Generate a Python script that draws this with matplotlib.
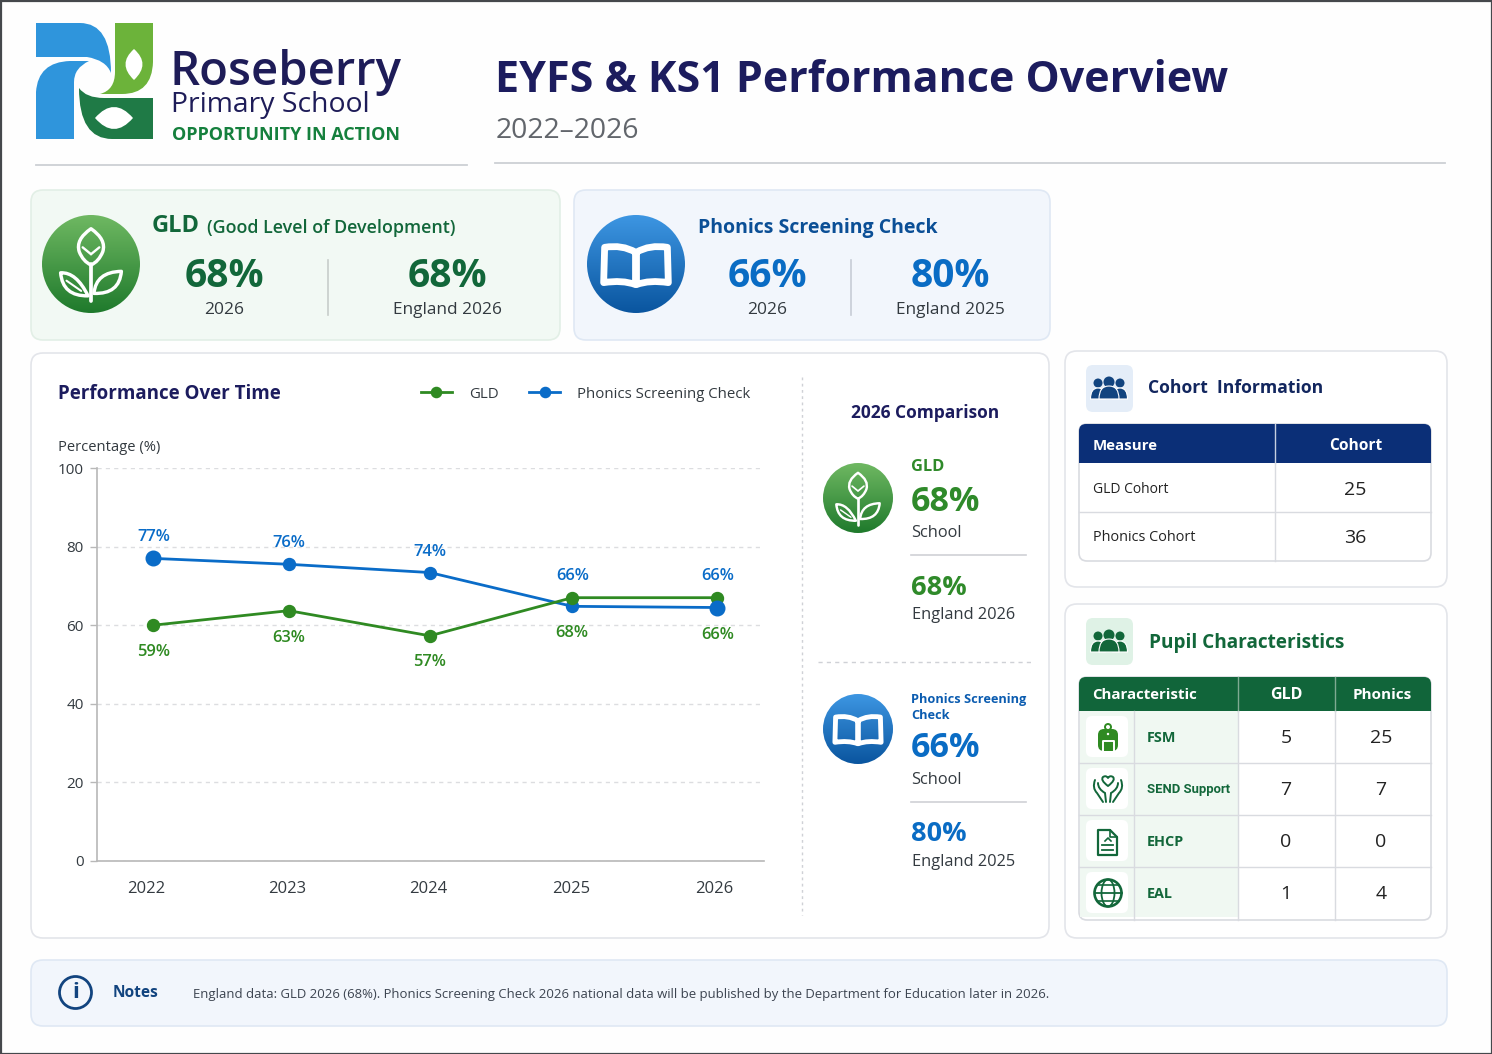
import matplotlib
matplotlib.use('Agg')
import matplotlib.pyplot as plt
from matplotlib.patches import FancyBboxPatch, Circle, Rectangle, PathPatch, Ellipse, Polygon
from matplotlib.path import Path
from matplotlib.colors import LinearSegmentedColormap
import numpy as np

plt.rcParams['font.family'] = ['Open Sans', 'DejaVu Sans']

#################### DATA ####################
years = [2022, 2023, 2024, 2025, 2026]
x_pos = [2022.0, 2022.96, 2023.96, 2024.97, 2026.0]   # points are not evenly spaced in the picture
tick_x = [2021.95, 2022.95, 2023.95, 2024.96, 2025.98]
gld_pts = [60.0, 63.7, 57.3, 67.0, 67.0]
phonics_pts = [77.0, 75.5, 73.4, 64.8, 64.5]
gld_labels = ['59%', '63%', '57%', '68%', '66%']
phonics_labels = ['77%', '76%', '74%', '66%', '66%']
y_ticks = [0, 20, 40, 60, 80, 100]

cohort_head = ['Measure', 'Cohort']
cohort_rows = ['GLD Cohort', 'Phonics Cohort']
cohort_vals = [25, 36]

char_head = ['Characteristic', 'GLD', 'Phonics']
char_rows = ['FSM', 'SEND Support', 'EHCP', 'EAL']
char_gld = [5, 7, 0, 1]
char_phonics = [25, 7, 0, 4]

NAVY = '#1c1c5e'
GREEN = '#12673a'
GREEN2 = '#2f8a2a'
BLUE = '#0a6cc4'
DBLUE = '#0b4f96'
GREY = '#333a40'

#################### CANVAS ####################
fig = plt.figure(figsize=(14.92, 10.54), dpi=100, facecolor='#fefefe')
bg = fig.add_axes([0, 0, 1, 1])
bg.set_axis_off()


def t(x, y, s, size=12, color=GREY, weight='normal', ha='left', **kw):
    # open sans sits a little high with va=center
    return bg.text(x, y + 0.12 * size, s, fontsize=size, color=color, fontweight=weight, ha=ha, va='center', **kw)


def card(x0, y0, x1, y1, fc='white', ec='#e3e5ea', r=12, lw=1.2, z=1):
    p = FancyBboxPatch((x0, y0), x1 - x0, y1 - y0, boxstyle='round,pad=0,rounding_size=%g' % r,
                       fc=fc, ec=ec, lw=lw, zorder=z)
    bg.add_patch(p)
    return p


def curve(pts, close=False):
    # pts: first point then (control, end) pairs
    verts = [pts[0]]
    codes = [Path.MOVETO]
    for c, e in pts[1:]:
        if c is None:
            verts.append(e)
            codes.append(Path.LINETO)
        else:
            verts += [c, e]
            codes += [Path.CURVE3, Path.CURVE3]
    if close:
        verts.append(pts[0])
        codes.append(Path.CLOSEPOLY)
    return Path(verts, codes)


def shape(pts, fc='none', ec='none', lw=1, z=5):
    bg.add_patch(PathPatch(curve(pts, True), fc=fc, ec=ec, lw=lw, zorder=z, joinstyle='round'))


def open_line(pts, ec='white', lw=1, z=6):
    bg.add_patch(PathPatch(curve(pts), fc='none', ec=ec, lw=lw, zorder=z, capstyle='round'))


def grad_circle(cx, cy, r, top, bottom):
    cm = LinearSegmentedColormap.from_list('g', [top, bottom])
    im = bg.imshow(np.linspace(0, 1, 128).reshape(-1, 1), cmap=cm, aspect='auto',
                   extent=(cx - r, cx + r, cy + r, cy - r), zorder=4)
    c = Circle((cx, cy), r, transform=bg.transData)
    im.set_clip_path(c)


def plant_icon(cx, cy, r):
    grad_circle(cx, cy, r, '#6fb862', '#1f7a2c')
    k = r
    lw = r * 0.05
    P = lambda a, b: (cx + a * k, cy + b * k)
    shape([P(0, -0.72), (P(0.32, -0.50), P(0.24, -0.25)), (P(0.16, -0.05), P(0, 0.02)),
           (P(-0.16, -0.05), P(-0.24, -0.25)), (P(-0.32, -0.50), P(0, -0.72))], ec='white', lw=lw, z=6)
    open_line([P(0, 0), (None, P(0, 0.76))], lw=lw * 1.1)
    open_line([P(-0.17, -0.34), (None, P(0, -0.2)), (None, P(0.17, -0.34))], lw=lw * 0.7)
    shape([P(-0.06, 0.65), (P(-0.58, 0.66), P(-0.62, 0.18)), (P(-0.30, 0.16), P(-0.06, 0.65))],
          ec='white', lw=lw, z=6)
    shape([P(0.06, 0.60), (P(0.10, 0.16), P(0.62, 0.15)), (P(0.58, 0.62), P(0.06, 0.60))],
          ec='white', lw=lw, z=6)
    open_line([P(-0.50, 0.34), (None, P(-0.2, 0.55))], lw=lw * 0.6)


def book_icon(cx, cy, r):
    grad_circle(cx, cy, r, '#3d96e2', '#0a559f')
    P = lambda a, b: (cx + a * r, cy + b * r)
    lw = r * 0.1
    for s in (-1, 1):
        shape([P(s * 0.01, -0.24), (P(s * 0.28, -0.40), P(s * 0.64, -0.34)), (None, P(s * 0.66, 0.38)),
               (P(s * 0.28, 0.32), P(s * 0.01, 0.42))], ec='white', lw=lw, z=6)


def people_icon(cx, cy, color, s=1.0):
    for dx, dy, rr in [(-11, -6, 4.5), (11, -6, 4.5), (0, -7, 5.5)]:
        bg.add_patch(Circle((cx + dx * s, cy + dy * s), rr * s, fc=color, ec='none', zorder=6))
    for dx, w, h, z in [(-11, 15, 11, 6), (11, 15, 11, 6), (0, 20, 13, 7)]:
        x0 = cx + (dx - w / 2) * s
        y0 = cy + (10 - h) * s
        shape([(x0, cy + 10 * s), (None, (x0 + w * s, cy + 10 * s)),
               ((x0 + w * s, y0), (x0 + w / 2 * s, y0)), ((x0, y0), (x0, cy + 10 * s))],
              fc=color, ec='white', lw=0.8, z=z)


#################### HEADER ####################
bg.add_patch(Rectangle((0.5, 0.5), 1491, 1053, fc='none', ec='#45484c', lw=1.6, zorder=20))

# logo
shape([(36, 23), (None, (80, 23)), ((111, 23), (111, 73)), ((106, 60), (87, 57)), (None, (36, 57))], fc='#2f95dc', z=3)
shape([(36, 139), (None, (36, 92)), ((38, 62), (70, 61)), (None, (89, 61)), ((74, 68), (74, 82)), (None, (74, 139))],
      fc='#2f95dc', z=3)
shape([(115, 23), (None, (153, 23)), (None, (153, 62)), ((152, 94), (122, 94)), (None, (100, 94)),
       ((115, 90), (115, 72))], fc='#6cb33a', z=3)
shape([(79, 88), ((86, 98), (104, 98)), (None, (153, 98)), (None, (153, 139)), (None, (112, 139)),
       ((79, 139), (79, 88))], fc='#1f7a46', z=3)
shape([(134, 49), ((151, 64), (134, 80)), ((117, 64), (134, 49))], fc='white', z=4)
shape([(95, 118), ((114, 96), (133, 118)), ((114, 140), (95, 118))], fc='white', z=4)

t(170, 68, 'Roseberry', 34, '#1e1c58', '600')
t(171, 103, 'Primary School', 20.4, '#1e1c58')
t(172, 133, 'OPPORTUNITY IN ACTION', 13, '#15803d', 'bold')
t(495, 77, 'EYFS & KS1 Performance Overview', 31, '#1c1c5e', 'bold')
t(496, 129, '2022\u20132026', 20.4, '#62666c')
bg.plot([36, 467], [165, 165], color='#cdd0d5', lw=1.3, zorder=2)
bg.plot([495, 1445], [163, 163], color='#cdd0d5', lw=1.3, zorder=2)

#################### TOP CARDS ####################
card(31, 190, 560, 340, fc='#f2f9f4', ec='#e2efe6')
plant_icon(91, 264, 49)
t(152, 224, 'GLD', 17, GREEN, 'bold')
t(207, 226, '(Good Level of Development)', 12.9, GREEN, '600')
t(224, 273, '68%', 28, GREEN, 'bold', ha='center')
t(224, 309, '2026', 12.5, GREY, ha='center')
t(447, 273, '68%', 28, GREEN, 'bold', ha='center')
t(447, 309, 'England 2026', 12.4, GREY, ha='center')
bg.plot([328, 328], [260, 315], color='#c7cdca', lw=1.2, zorder=2)

card(574, 190, 1050, 340, fc='#f2f6fc', ec='#dfe8f4')
book_icon(636, 264, 49)
t(698, 226, 'Phonics Screening Check', 14, DBLUE, 'bold')
t(767, 273, '66%', 28, BLUE, 'bold', ha='center')
t(767, 309, '2026', 12.5, GREY, ha='center')
t(950, 273, '80%', 28, BLUE, 'bold', ha='center')
t(950, 309, 'England 2025', 12.4, GREY, ha='center')
bg.plot([851, 851], [260, 315], color='#c7cdd6', lw=1.2, zorder=2)

#################### CHART CARD ####################
card(31, 353, 1049, 938)
t(58, 392, 'Performance Over Time', 13.5, NAVY, 'bold')
t(58, 446, 'Percentage (%)', 10.6, GREY)

ax = fig.add_axes([97 / 1492, 1 - 861 / 1054, (764 - 97) / 1492, (861 - 468) / 1054], zorder=2)
ax.patch.set_alpha(0)
ax.set_xlim(2021.6, 2026.33)
ax.set_ylim(0, 100)
l1, = ax.plot(x_pos, gld_pts, color='#2f8a22', lw=2, marker='o', ms=8.6, label='GLD', zorder=4, clip_on=False)
l2, = ax.plot(x_pos, phonics_pts, color='#0a6cc8', lw=2, marker='o', ms=8.6, label='Phonics Screening Check',
              zorder=3, clip_on=False)
ax.plot([x_pos[0], x_pos[4]], [phonics_pts[0], phonics_pts[4]], ls='none', marker='o', ms=10.5, color='#0a6cc8', zorder=5)

gld_off = [-27, -27, -26, -35, -37]
ph_off = [21, 21, 21, 30, 32]
for i in range(5):
    ax.annotate(gld_labels[i], (x_pos[i], gld_pts[i]), xytext=(0, gld_off[i]), textcoords='offset pixels',
                ha='center', va='center', color='#2f8a22', fontsize=11.9, fontweight='600')
    ax.annotate(phonics_labels[i], (x_pos[i], phonics_pts[i]), xytext=(0, ph_off[i]), textcoords='offset pixels',
                ha='center', va='center', color='#0a6cc8', fontsize=11.9, fontweight='600')

ax.set_yticks(y_ticks)
ax.set_xticks(tick_x)
ax.set_xticklabels(years)
ax.tick_params(axis='y', length=5, width=1, color='#b8b8b8', labelsize=11, labelcolor=GREY, pad=4.4)
ax.tick_params(axis='x', length=0, labelsize=12, labelcolor=GREY, pad=14.7)
ax.grid(axis='y', ls=(0, (3, 3)), color='#dcdde0', lw=1)
ax.set_axisbelow(True)
for s in ['top', 'right']:
    ax.spines[s].set_visible(False)
for s in ['left', 'bottom']:
    ax.spines[s].set_color('#b8b8b8')
    ax.spines[s].set_linewidth(1.2)
ax.legend(handles=[l1, l2], ncol=2, frameon=False, loc='center left', bbox_to_anchor=(324 / 667, 1.188),
          fontsize=10.8, handlelength=2.05, columnspacing=2.05, handletextpad=1.15, labelcolor=GREY, markerscale=0.85,
          borderpad=0, borderaxespad=0)

# 2026 comparison
bg.plot([802, 802], [377, 915], color='#cfd1d6', lw=1, ls=(0, (2, 2.5)), zorder=2)
t(925, 412, '2026 Comparison', 12.5, NAVY, 'bold', ha='center')
plant_icon(858, 498, 35)
t(911, 466, 'GLD', 11.8, GREEN2, 'bold')
t(911, 499, '68%', 24.5, GREEN2, 'bold')
t(911, 532, 'School', 11.8, GREY)
bg.plot([911, 1026], [555, 555], color='#cfd1d6', lw=1.2, zorder=2)
t(911, 586, '68%', 19.5, GREEN2, 'bold')
t(912, 614, 'England 2026', 11.8, GREY)
bg.plot([818, 1033], [662, 662], color='#cfd1d6', lw=1, ls=(0, (3, 3)), zorder=2)
book_icon(858, 729, 35)
t(911, 698, 'Phonics Screening', 9.2, '#0b5cb0', 'bold')
t(911, 714, 'Check', 9.2, '#0b5cb0', 'bold')
t(911, 745, '66%', 24.5, BLUE, 'bold')
t(911, 779, 'School', 11.8, GREY)
bg.plot([911, 1026], [802, 802], color='#cfd1d6', lw=1.2, zorder=2)
t(911, 832, '80%', 19.5, BLUE, 'bold')
t(912, 861, 'England 2025', 11.8, GREY)

#################### COHORT CARD ####################
card(1065, 351, 1447, 587)
card(1086, 365, 1133, 412, fc='#e4edf8', ec='none', r=7)
people_icon(1109, 389, '#12447f')
t(1148, 386, 'Cohort  Information', 12.6, '#12265e', 'bold')

card(1079, 424, 1431, 561, fc='white', ec='#d9dbe0', r=8)
card(1079, 424, 1431, 450, fc='#0b2f77', ec='none', r=7, z=2)
bg.add_patch(Rectangle((1079, 436), 352, 27, fc='#0b2f77', ec='none', zorder=2))
bg.plot([1275, 1275], [424, 463], color='#c6cfe0', lw=1, zorder=3)
bg.plot([1275, 1275], [463, 561], color='#d9dbe0', lw=1, zorder=3)
bg.plot([1079, 1431], [512, 512], color='#d9dbe0', lw=1, zorder=3)
t(1093, 445, cohort_head[0], 10.8, 'white', 'bold')
t(1356, 445, cohort_head[1], 11.2, 'white', 'bold', ha='center')
row_y = [488, 536]
row_size = [10, 10.4]
for i in range(2):
    t(1093, row_y[i], cohort_rows[i], row_size[i], '#222')
    t(1355, row_y[i], str(cohort_vals[i]), 14, '#222', ha='center')

#################### PUPIL CARD ####################
card(1065, 604, 1447, 938)
card(1086, 618, 1133, 665, fc='#dff2e6', ec='none', r=7)
people_icon(1109, 642, GREEN)
t(1149, 641, 'Pupil Characteristics', 13.7, GREEN, 'bold')

card(1079, 677, 1431, 920, fc='white', ec='#d9dbe0', r=8)
bg.add_patch(Rectangle((1080, 711), 158, 206, fc='#f0f8f2', ec='none', zorder=1.5))
card(1079, 677, 1431, 700, fc='#11653a', ec='none', r=7, z=2)
bg.add_patch(Rectangle((1079, 688), 352, 23, fc='#11653a', ec='none', zorder=2))
for xv in (1238, 1335):
    bg.plot([xv, xv], [677, 711], color='#7faa92', lw=1, zorder=3)
    bg.plot([xv, xv], [711, 920], color='#d9dbe0', lw=1, zorder=3)
bg.plot([1134, 1134], [711, 920], color='#d9dbe0', lw=1, zorder=3)
for yv in (763, 815, 867):
    bg.plot([1079, 1431], [yv, yv], color='#d9dbe0', lw=1, zorder=3)
t(1092, 694, char_head[0], 10.8, 'white', 'bold')
t(1286, 694, char_head[1], 11.5, 'white', 'bold', ha='center')
t(1382, 694, char_head[2], 11, 'white', 'bold', ha='center')
ch_y = [737, 789, 841, 893]
for i in range(4):
    card(1086, ch_y[i] - 21, 1128, ch_y[i] + 20, fc='white', ec='none', r=6, z=2)
    if char_rows[i] == 'SEND Support':
        bg.text(1147, ch_y[i] + 1, char_rows[i], fontsize=9.4, family=['Roboto', 'DejaVu Sans'], fontweight='bold',
                color=GREEN, ha='left', va='center')
    else:
        t(1147, ch_y[i], char_rows[i], 10.4, GREEN, 'bold')
    t(1286, ch_y[i] - 1, str(char_gld[i]), 14, '#222', ha='center')
    t(1381, ch_y[i] - 1, str(char_phonics[i]), 14, '#222', ha='center')

# backpack
bg.add_patch(FancyBboxPatch((1098, 729), 20, 22, boxstyle='round,pad=0,rounding_size=6', fc='#2f8a22', ec='none', zorder=5))
bg.add_patch(Circle((1108, 727), 3, fc='none', ec='#2f8a22', lw=1.4, zorder=5))
bg.plot([1102.5, 1102.5, 1113.5, 1113.5], [751, 741, 741, 751], color='white', lw=1.4, zorder=6)
bg.add_patch(Circle((1108, 734), 1.2, fc='white', ec='none', zorder=6))

# hands + heart
hc = GREEN
shape([(1108, 786), ((1100, 780), (1103, 777)), ((1106, 775), (1108, 778)), ((1110, 775), (1113, 777)),
       ((1116, 780), (1108, 786))], ec=hc, lw=1.4)
open_line([(1095, 780), ((1092, 788), (1097, 793)), (None, (1103, 802))], ec=hc, lw=1.4)
open_line([(1098, 783), ((1098, 789), (1105, 793)), (None, (1106, 802))], ec=hc, lw=1.4)
open_line([(1121, 780), ((1124, 788), (1119, 793)), (None, (1113, 802))], ec=hc, lw=1.4)
open_line([(1118, 783), ((1118, 789), (1111, 793)), (None, (1110, 802))], ec=hc, lw=1.4)

# document
bg.add_patch(Polygon([(1098, 830), (1110, 830), (1117, 837), (1117, 855), (1098, 855)], closed=True, fc='none',
                     ec=GREEN, lw=1.6, zorder=5, joinstyle='round'))
bg.plot([1110, 1110, 1117], [830, 837, 837], color=GREEN, lw=1.2, zorder=5)
bg.plot([1102, 1113], [845, 845], color=GREEN, lw=1.3, zorder=5)
bg.plot([1102, 1113], [850, 850], color=GREEN, lw=1.3, zorder=5)
bg.plot([1105, 1108, 1111], [841, 838, 841], color=GREEN, lw=1.2, zorder=5)

# globe
bg.add_patch(Circle((1108, 893), 13.5, fc='none', ec=GREEN, lw=1.9, zorder=5))
bg.add_patch(Ellipse((1108, 893), 13, 27, fc='none', ec=GREEN, lw=1.3, zorder=5))
bg.plot([1094.5, 1121.5], [893, 893], color=GREEN, lw=1.3, zorder=5)
bg.plot([1097, 1119], [885, 885], color=GREEN, lw=1.2, zorder=5)
bg.plot([1097, 1119], [901, 901], color=GREEN, lw=1.2, zorder=5)

#################### NOTES ####################
card(31, 960, 1447, 1026, fc='#f2f6fc', ec='#dfe8f4')
bg.add_patch(Circle((75.5, 992.5), 16, fc='none', ec='#12447f', lw=2, zorder=5))
t(75.5, 991, 'i', 16, '#12447f', 'bold', ha='center', zorder=6)
t(113, 992, 'Notes', 11.2, '#12447f', 'bold')
t(193, 993.5, 'England data: GLD 2026 (68%). Phonics Screening Check 2026 national data will be published by the Department for Education later in 2026.',
  9.48, '#3c4450')

bg.set_xlim(0, 1492)
bg.set_ylim(1054, 0)
fig.savefig('out.png', dpi=100, facecolor=fig.get_facecolor())
